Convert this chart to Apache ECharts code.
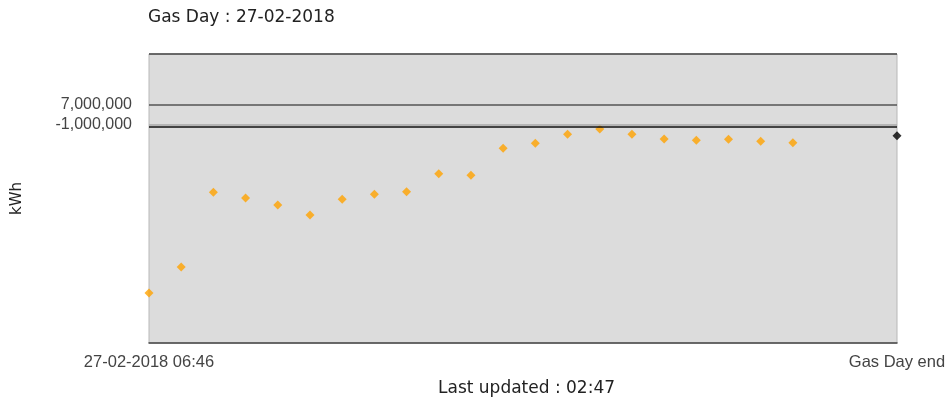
<!DOCTYPE html>
<html>
<head>
<meta charset="utf-8">
<title>Gas Day</title>
<script src="https://cdn.jsdelivr.net/npm/echarts@6/dist/echarts.min.js"></script>
<style>
    html, body { margin: 0; padding: 0; background: #fff; }
    #GasDay { width: 947px; height: 403px; }
</style>
</head>
<body>
<div id="GasDay"></div>
<script>
    // hourly readings (kWh) for the gas day
    var sampleTimes = [
        '2018-02-27 06:46', '2018-02-27 07:46', '2018-02-27 08:46', '2018-02-27 09:46',
        '2018-02-27 10:46', '2018-02-27 11:46', '2018-02-27 12:46', '2018-02-27 13:46',
        '2018-02-27 14:46', '2018-02-27 15:46', '2018-02-27 16:46', '2018-02-27 17:46',
        '2018-02-27 18:46', '2018-02-27 19:46', '2018-02-27 20:46', '2018-02-27 21:46',
        '2018-02-27 22:46', '2018-02-27 23:46', '2018-02-28 00:46', '2018-02-28 01:46',
        '2018-02-28 02:46'
    ];
    var sampleValues = [
        -68200000, -57800000, -27900000, -30200000, -33000000, -37000000, -30700000,
        -28700000, -27700000, -20500000, -21100000, -10300000, -8300000, -4700000,
        -2600000, -4700000, -6600000, -7100000, -6700000, -7500000, -8100000
    ];
    var endTime = '2018-02-28 06:00';
    var endValue = -5300000;

    var yTickValues = [7000000, -1000000];
    var thresholdLines = [7000000, -1000000, -1800000];
    var yMin = -88200000;
    var yMax = 27400000;

    var xTickLabels = ['27-02-2018 06:46', 'Gas Day end'];

    function toTime(s) {
        return new Date(s.replace(' ', 'T') + ':00Z').getTime();
    }

    var xMin = toTime(sampleTimes[0]);
    var xMax = toTime(endTime);

    var points = [];
    sampleTimes.forEach(function (t, i) {
        points.push([toTime(t), sampleValues[i]]);
    });

    var myCharts = echarts.init(document.getElementById('GasDay'));
    myCharts.setOption({
        animation: false,
        textStyle: { fontFamily: '"Liberation Sans", Arial, sans-serif' },
        title: [
            {
                text: 'Gas Day : 27-02-2018',
                left: 148,
                top: 9,
                padding: 0,
                textStyle: { fontFamily: '"DejaVu Sans", Verdana, sans-serif', fontSize: 17, fontWeight: 'normal', color: '#222' }
            },
            {
                text: 'Last updated : 02:47',
                left: 438,
                top: 380,
                padding: 0,
                textStyle: { fontFamily: '"DejaVu Sans", Verdana, sans-serif', fontSize: 17, fontWeight: 'normal', color: '#222' }
            }
        ],
        grid: {
            left: 149,
            right: 50,
            top: 54,
            bottom: 60,
            containLabel: false,
            outerBoundsMode: 'none',
            show: true,
            backgroundColor: '#dcdcdc',
            borderColor: '#b8b8b8',
            borderWidth: 1
        },
        xAxis: {
            type: 'value',
            min: xMin,
            max: xMax,
            axisLine: { show: true, onZero: false, lineStyle: { color: '#444', width: 1.5 } },
            axisTick: { show: false },
            splitLine: { show: false },
            axisLabel: {
                customValues: [xMin, xMax],
                margin: 11,
                fontSize: 16.5,
                color: '#444',
                formatter: function (val) {
                    return val === xMin ? xTickLabels[0] : xTickLabels[1];
                }
            }
        },
        yAxis: {
            type: 'value',
            min: yMin,
            max: yMax,
            name: 'kWh',
            nameLocation: 'middle',
            nameRotate: 90,
            nameGap: 124,
            nameTextStyle: { fontFamily: '"DejaVu Sans", Verdana, sans-serif', fontSize: 15, color: '#222' },
            axisLine: { show: false },
            axisTick: { show: false },
            splitLine: { show: false },
            axisLabel: {
                customValues: yTickValues,
                margin: 17,
                fontSize: 16,
                color: '#444',
                formatter: function (val) {
                    return val.toLocaleString('en-US');
                }
            }
        },
        series: [
            {
                name: 'kWh',
                type: 'scatter',
                symbol: 'diamond',
                symbolSize: 9,
                itemStyle: { color: '#ffa200' },
                data: points,
                markLine: {
                    silent: true,
                    symbol: 'none',
                    label: { show: false },
                    data: [
                        { yAxis: yMax, lineStyle: { color: '#444', width: 1.5, type: 'solid' } },
                        { yAxis: thresholdLines[0], lineStyle: { color: '#555', width: 1.5, type: 'solid' } },
                        { yAxis: thresholdLines[1], lineStyle: { color: '#a8a8a8', width: 1.5, type: 'solid' } },
                        { yAxis: thresholdLines[2], lineStyle: { color: '#111', width: 1.5, type: 'solid' } }
                    ]
                }
            },
            {
                name: 'Gas Day end',
                type: 'scatter',
                symbol: 'diamond',
                symbolSize: 9,
                itemStyle: { color: '#000' },
                data: [[xMax, endValue]]
            }
        ]
    });
    window.addEventListener('resize', function () {
        myCharts.resize();
    });
</script>
</body>
</html>
